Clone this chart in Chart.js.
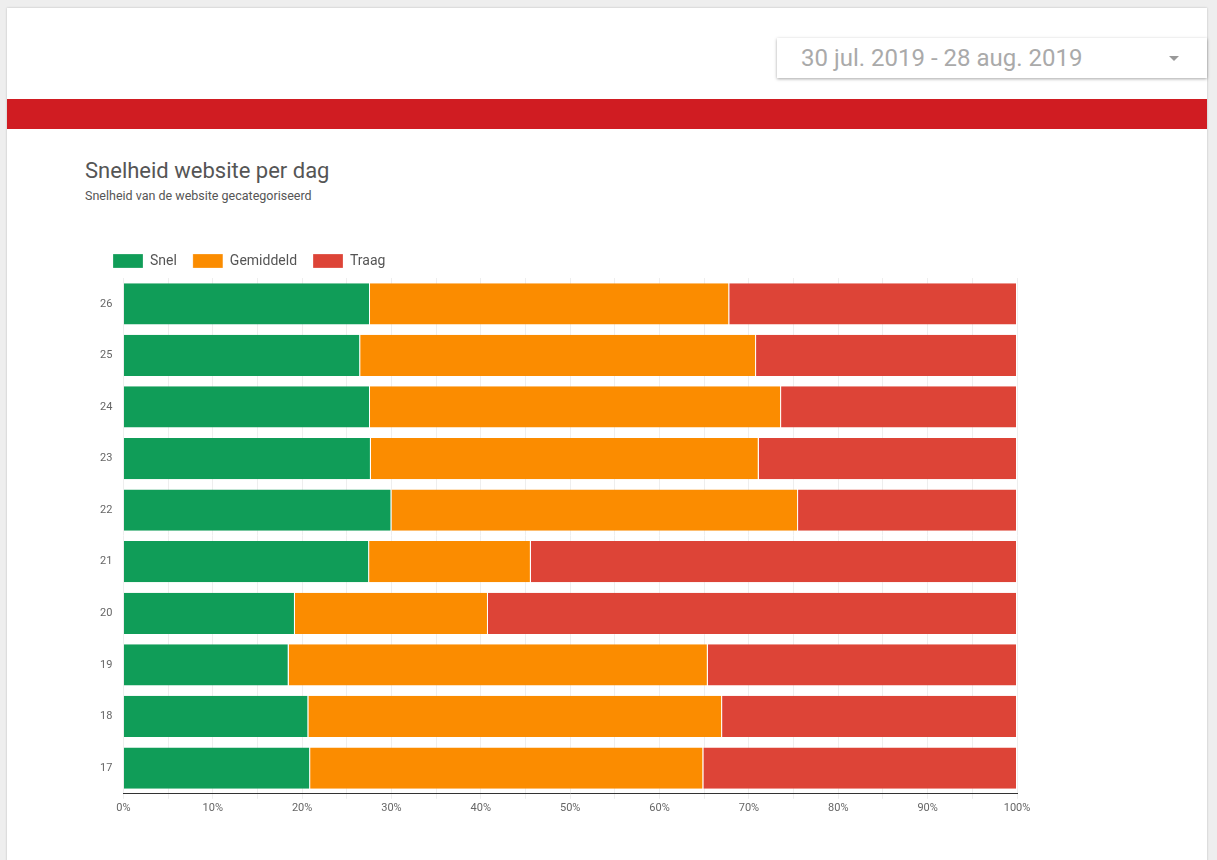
<!DOCTYPE html>
<html><head><meta charset="utf-8">
<script src="https://cdn.jsdelivr.net/npm/chart.js@4"></script>
<style>
body{margin:0;background:#eee;font-family:Roboto,sans-serif;}
#page{position:absolute;left:7px;top:8px;width:1200px;height:860px;background:#fff;box-shadow:0 0 2px #bbb;}
#date{position:absolute;left:770px;top:30px;width:430px;height:40px;background:#fff;box-shadow:0 1px 3px rgba(0,0,0,.35);color:#aaa;font-size:24px;line-height:40px;padding-left:24px;box-sizing:border-box;}
#date span{position:absolute;right:28px;top:18px;width:0;height:0;border-left:5px solid transparent;border-right:5px solid transparent;border-top:5px solid #999;}
#red{position:absolute;left:0;top:91px;width:1200px;height:30px;background:#d01c22;}
#title{position:absolute;left:78px;top:150px;font-size:22px;color:#555;}
#sub{position:absolute;left:78px;top:180px;font-size:12.5px;color:#555;}
#wrap{position:absolute;left:60px;top:230px;width:1000px;height:580px;}
</style></head><body>
<div id="page">
<div id="date">30 jul. 2019 - 28 aug. 2019<span></span></div>
<div id="red"></div>
<div id="title">Snelheid website per dag</div>
<div id="sub">Snelheid van de website gecategoriseerd</div>
<div id="wrap"><canvas id="c"></canvas></div>
</div>
<script>
const categories=['26','25','24','23','22','21','20','19','18','17'];
const snel=[27.6,26.5,27.6,27.7,30.0,27.5,19.2,18.5,20.7,20.9];
const gemiddeld=[40.2,44.3,46.0,43.4,45.5,18.1,21.6,46.9,46.3,44.0];
const traag=[32.2,29.2,26.4,28.9,24.5,54.4,59.2,34.6,33.0,35.1];
Chart.defaults.font.family='Roboto';
const ds=(l,d,c)=>({label:l,data:d,backgroundColor:c,borderColor:'#fff',borderWidth:{right:1,left:0,top:0,bottom:0},borderSkipped:false,categoryPercentage:0.8,barPercentage:1});
new Chart(document.getElementById('c'),{type:'bar',
data:{labels:categories,datasets:[ds('Snel',snel,'#109d58'),ds('Gemiddeld',gemiddeld,'#fb8c00'),ds('Traag',traag,'#dd4437')]},
options:{indexAxis:'y',responsive:true,maintainAspectRatio:false,animation:false,
layout:{padding:{left:30,right:50}},
plugins:{legend:{align:'start',labels:{boxWidth:30,boxHeight:14,color:'#555',font:{size:14},padding:16}},tooltip:{enabled:false}},
scales:{x:{stacked:true,min:0,max:100,ticks:{stepSize:5,color:'#666',font:{size:11},callback:v=>v%10===0?v+'%':''},grid:{color:'#eee',drawTicks:true,tickLength:5},border:{color:'#333'}},
y:{stacked:true,ticks:{color:'#666',font:{size:11}},grid:{display:false},border:{display:false}}}}});
</script></body></html>
